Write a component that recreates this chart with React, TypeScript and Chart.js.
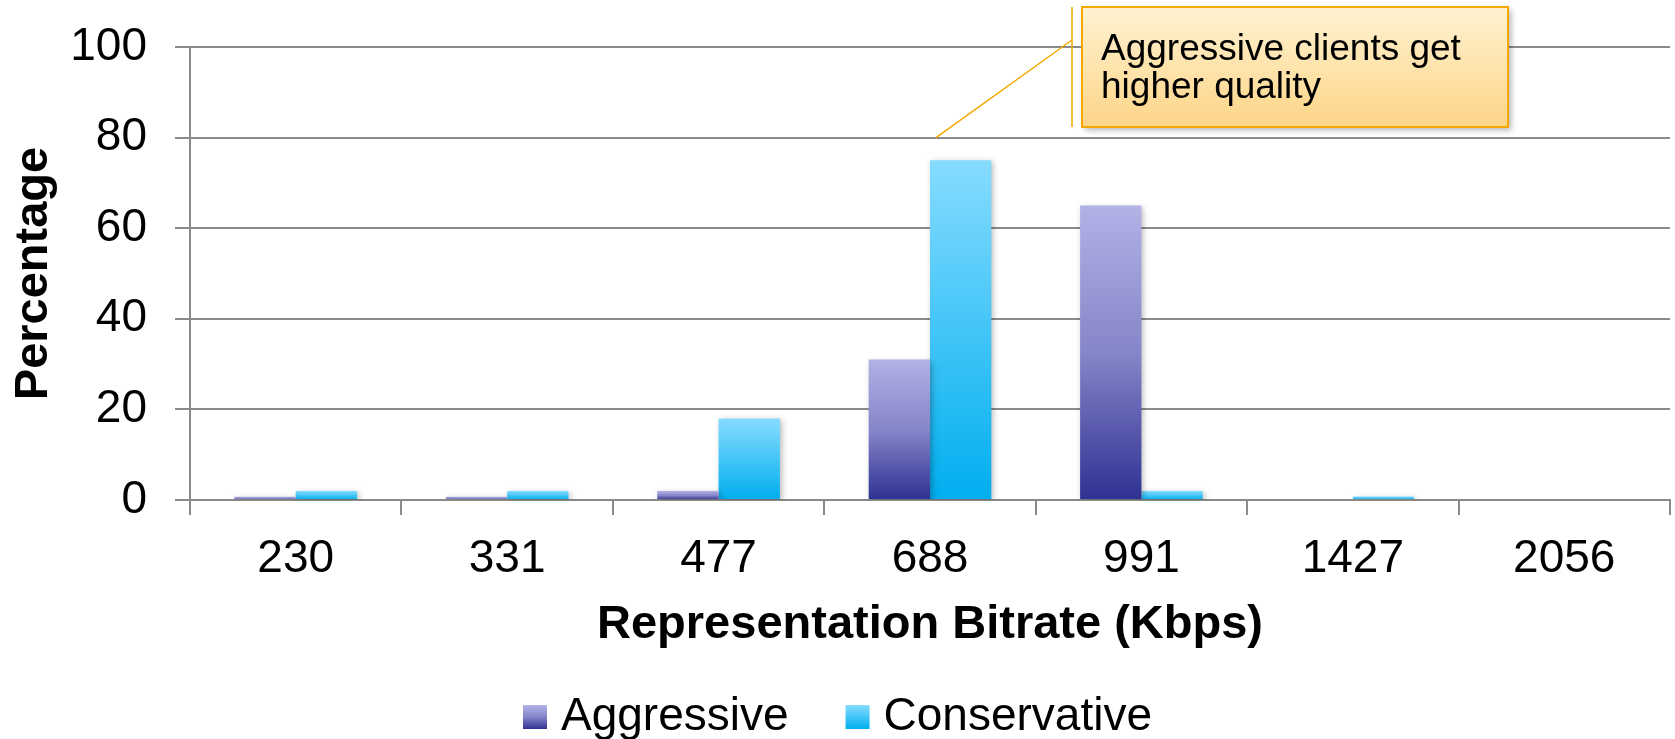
import React, { useEffect, useRef } from 'react';
import { Chart, registerables } from 'chart.js';

Chart.register(...registerables);

const categories = ['230', '331', '477', '688', '991', '1427', '2056'];
const aggressive = [0.7, 0.7, 2, 31, 65, 0, 0];
const conservative = [2, 2, 18, 75, 2, 0.8, 0];
const seriesNames = ['Aggressive', 'Conservative'];
const yMin = 0;
const yMax = 100;
const yStep = 20;
const xTitle = 'Representation Bitrate (Kbps)';
const yTitle = 'Percentage';
const calloutLines = ['Aggressive clients get', 'higher quality'];
const calloutTarget = { index: 3, value: 80 };

const FONT = '"Liberation Sans", Arial, Helvetica, sans-serif';
const GRID = '#8a8a8a';
const seriesStops: [number, string][][] = [
  [[0, '#b2b2e6'], [0.5, '#8585c9'], [1, '#2e3192']],
  [[0, '#86dcff'], [1, '#00aeef']],
];

function barGradient(seriesIdx: number) {
  return (c: any) => {
    const chart = c.chart;
    const stops = seriesStops[seriesIdx];
    if (!chart.chartArea || c.type !== 'data' || !chart.scales.y) return stops[0][1];
    const v = c.raw as number;
    const yTop = chart.scales.y.getPixelForValue(v);
    const yBase = chart.scales.y.getPixelForValue(0);
    if (yBase - yTop < 0.5) return stops[0][1];
    const g = chart.ctx.createLinearGradient(0, yTop, 0, yBase);
    stops.forEach(([o, col]) => g.addColorStop(o, col));
    return g;
  };
}

const shadowPlugin = {
  id: 'barShadow',
  beforeDatasetsDraw(chart: any) {
    const ctx = chart.ctx;
    ctx.save();
    ctx.shadowColor = 'rgba(0,0,0,0.28)';
    ctx.shadowBlur = 6;
    ctx.shadowOffsetX = 2;
    ctx.shadowOffsetY = 2;
  },
  afterDatasetsDraw(chart: any) {
    chart.ctx.restore();
  },
};

const legendPlugin = {
  id: 'customLegend',
  afterDraw(chart: any) {
    const ctx = chart.ctx;
    ctx.save();
    ctx.font = `46px ${FONT}`;
    const box = 24;
    const gap = 14;
    const sep = 57;
    const items = chart.data.datasets.map((d: any, i: number) => ({
      label: d.label as string,
      w: ctx.measureText(d.label).width,
      i,
    }));
    const total =
      items.reduce((s: number, it: any) => s + box + gap + it.w, 0) + sep * (items.length - 1);
    let x = (chart.width - total) / 2;
    const cy = 717;
    items.forEach((it: any) => {
      const g = ctx.createLinearGradient(0, cy - box / 2, 0, cy + box / 2);
      seriesStops[it.i].forEach(([o, col]) => g.addColorStop(o, col));
      ctx.fillStyle = g;
      ctx.fillRect(x, cy - box / 2, box, box);
      ctx.fillStyle = '#000';
      ctx.textBaseline = 'alphabetic';
      ctx.textAlign = 'left';
      ctx.fillText(it.label, x + box + gap, cy + 13);
      x += box + gap + it.w + sep;
    });
    ctx.restore();
  },
};

const calloutPlugin = {
  id: 'callout',
  afterDraw(chart: any) {
    const ctx = chart.ctx;
    const bx = 1082, by = 7, bw = 426, bh = 120;
    const lineX = 1072;
    const tx = chart.scales.x.getPixelForValue(calloutTarget.index) + 6;
    const ty = chart.scales.y.getPixelForValue(calloutTarget.value);
    ctx.save();
    ctx.strokeStyle = '#f5a800';
    ctx.lineWidth = 1.5;
    ctx.beginPath();
    ctx.moveTo(lineX, by);
    ctx.lineTo(lineX, by + bh);
    ctx.moveTo(lineX, 40);
    ctx.lineTo(tx, ty);
    ctx.stroke();
    ctx.save();
    ctx.shadowColor = 'rgba(0,0,0,0.3)';
    ctx.shadowBlur = 6;
    ctx.shadowOffsetX = 3;
    ctx.shadowOffsetY = 3;
    const g = ctx.createLinearGradient(0, by, 0, by + bh);
    g.addColorStop(0, '#fff2d2');
    g.addColorStop(1, '#fdd587');
    ctx.fillStyle = g;
    ctx.fillRect(bx, by, bw, bh);
    ctx.restore();
    ctx.strokeStyle = '#f5a800';
    ctx.lineWidth = 2;
    ctx.strokeRect(bx, by, bw, bh);
    ctx.fillStyle = '#000';
    ctx.font = `37px ${FONT}`;
    ctx.textAlign = 'left';
    ctx.textBaseline = 'alphabetic';
    ctx.fillText(calloutLines[0], 1101, 60);
    ctx.fillText(calloutLines[1], 1101, 98);
    ctx.restore();
  },
};

export default function App() {
  const ref = useRef<HTMLCanvasElement>(null);
  useEffect(() => {
    document.body.style.margin = '0';
    if (!ref.current) return;
    const chart = new Chart(ref.current, {
      type: 'bar',
      data: {
        labels: categories,
        datasets: [
          {
            label: seriesNames[0],
            data: aggressive,
            backgroundColor: barGradient(0),
            categoryPercentage: 0.58,
            barPercentage: 1,
            borderWidth: 0,
          },
          {
            label: seriesNames[1],
            data: conservative,
            backgroundColor: barGradient(1),
            categoryPercentage: 0.58,
            barPercentage: 1,
            borderWidth: 0,
          },
        ],
      },
      options: {
        animation: false,
        responsive: false,
        layout: { padding: { top: 47, right: 5, bottom: 0, left: 0 } },
        plugins: {
          legend: { display: false },
          tooltip: { enabled: false },
        },
        scales: {
          x: {
            grid: {
              offset: true,
              drawOnChartArea: false,
              drawTicks: true,
              tickLength: 15,
              color: GRID,
              lineWidth: 2,
            },
            border: { display: true, color: GRID, width: 2 },
            ticks: { color: '#000', font: { family: FONT, size: 46 }, padding: 17 },
            title: {
              display: true,
              text: xTitle,
              color: '#000',
              font: { family: FONT, size: 47, weight: 'bold' },
              padding: { top: 0, bottom: 86 },
            },
            afterFit: (s: any) => {
              s.height = 239;
            },
          },
          y: {
            min: yMin,
            max: yMax,
            ticks: { stepSize: yStep, color: '#000', font: { family: FONT, size: 46 }, padding: 28 },
            grid: { color: GRID, lineWidth: 2, tickLength: 15, drawTicks: true },
            border: { display: true, color: GRID, width: 2 },
            title: {
              display: true,
              text: yTitle,
              color: '#000',
              font: { family: FONT, size: 47, weight: 'bold' },
              padding: { top: 6, bottom: 0 },
            },
            afterFit: (s: any) => {
              s.width = 190;
              s.paddingTop = 0;
              s.paddingBottom = 0;
            },
          },
        },
      } as any,
      plugins: [shadowPlugin, legendPlugin, calloutPlugin],
    });
    return () => chart.destroy();
  }, []);
  return (
    <div style={{ width: 1675, height: 739 }}>
      <canvas ref={ref} width={1675} height={739} style={{ display: 'block' }} />
    </div>
  );
}
